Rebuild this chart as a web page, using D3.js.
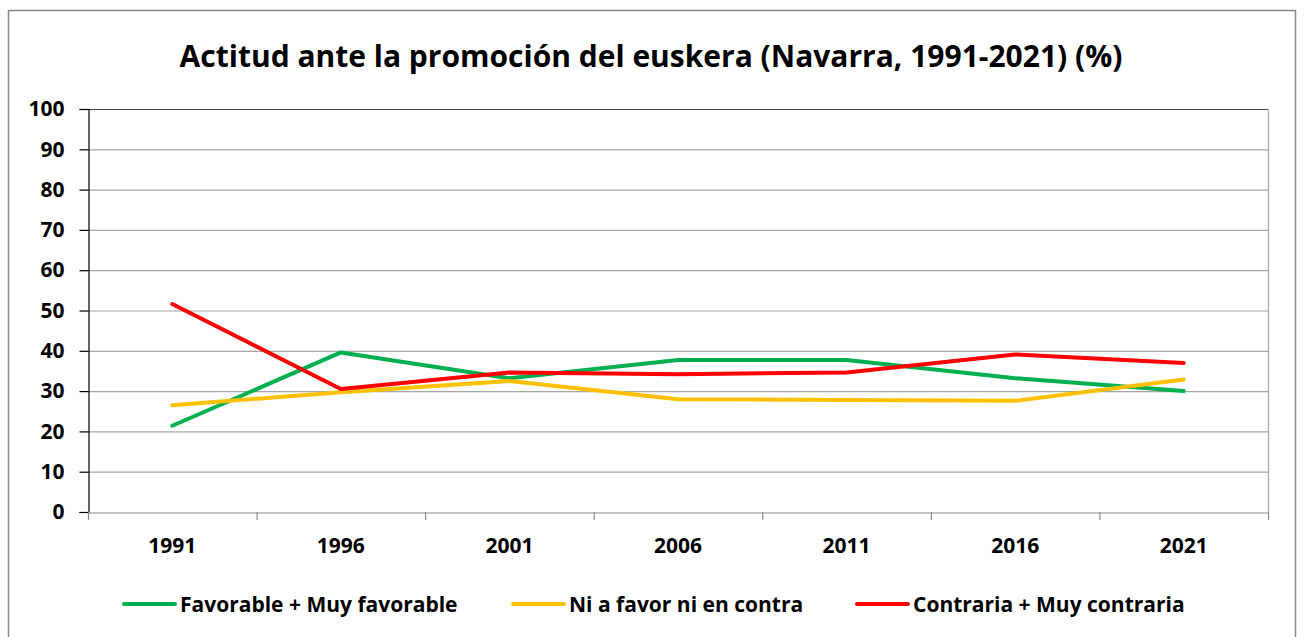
<!DOCTYPE html>
<html>
<head>
<meta charset="utf-8">
<script src="https://cdn.jsdelivr.net/npm/d3@7"></script>
<style>
  body { margin: 0; background: #fff; }
  svg text { font-family: "Open Sans", Lato, sans-serif; font-weight: bold; fill: #000; }
</style>
</head>
<body>
<div id="chart"></div>
<script>
const years = ['1991', '1996', '2001', '2006', '2011', '2016', '2021'];
const favorable = [21.4, 39.6, 33.2, 37.7, 37.7, 33.2, 30.0];
const neutral = [26.5, 29.7, 32.5, 28.0, 27.8, 27.6, 32.9];
const contraria = [51.6, 30.5, 34.6, 34.2, 34.6, 39.1, 37.0];
const seriesNames = ['Favorable + Muy favorable', 'Ni a favor ni en contra', 'Contraria + Muy contraria'];
const yTicks = [0, 10, 20, 30, 40, 50, 60, 70, 80, 90, 100];

const W = 1304, H = 637;
const plot = { left: 88, right: 1268, top: 109, bottom: 512 };
const colors = ['#00B050', '#FFC000', '#FF0000'];
const series = [favorable, neutral, contraria];
const FONT = '"Open Sans", Lato, sans-serif';

const svg = d3.select('#chart').append('svg')
  .attr('width', W).attr('height', H);

// outer frame
svg.append('rect')
  .attr('x', 8.5).attr('y', 10.5).attr('width', 1287).attr('height', 640)
  .attr('fill', 'none').attr('stroke', '#888').attr('stroke-width', 1.5);

svg.append('text')
  .attr('x', 651).attr('y', 67)
  .attr('text-anchor', 'middle')
  .style('font-size', '30px')
  .text('Actitud ante la promoción del euskera (Navarra, 1991-2021) (%)');

const x = d3.scaleBand().domain(years).range([plot.left, plot.right]);
const y = d3.scaleLinear().domain([0, 100]).range([plot.bottom, plot.top]);

// gridlines
svg.append('g').selectAll('line')
  .data(yTicks.filter(d => d > 0))
  .enter().append('line')
    .attr('x1', plot.left).attr('x2', plot.right)
    .attr('y1', d => y(d) + 0.5).attr('y2', d => y(d) + 0.5)
    .attr('stroke', d => d === 100 ? '#444' : '#a6a6a6')
    .attr('stroke-width', 1.2);

// right edge of plot area
svg.append('line')
  .attr('x1', plot.right + 0.5).attr('x2', plot.right + 0.5)
  .attr('y1', plot.top).attr('y2', plot.bottom)
  .attr('stroke', '#a6a6a6').attr('stroke-width', 1.2);

// y axis
const yAxis = svg.append('g')
  .attr('transform', `translate(${plot.left + 0.5},0)`)
  .call(d3.axisLeft(y).tickValues(yTicks).tickSize(9).tickPadding(15));
yAxis.select('.domain').attr('stroke', '#000').attr('stroke-width', 1.2);
yAxis.selectAll('.tick line').attr('stroke', '#000').attr('stroke-width', 1.2);
yAxis.selectAll('.tick text')
  .style('font-size', '21px').style('font-family', FONT)
  .attr('fill', '#000');

// x axis
const xAxis = svg.append('g')
  .attr('transform', `translate(0,${plot.bottom + 0.5})`)
  .call(d3.axisBottom(x).tickSize(0).tickPadding(26));
xAxis.select('.domain').attr('stroke', '#888').attr('stroke-width', 1.2);
xAxis.selectAll('.tick text')
  .style('font-size', '21px').style('font-family', FONT)
  .attr('fill', '#000');
// category separators
const bounds = years.map(d => x(d)).concat([plot.right]);
svg.append('g').selectAll('line')
  .data(bounds)
  .enter().append('line')
    .attr('x1', d => d + 0.5).attr('x2', d => d + 0.5)
    .attr('y1', plot.bottom).attr('y2', plot.bottom + 8)
    .attr('stroke', '#888').attr('stroke-width', 1.2);

// lines
const line = d3.line()
  .x((d, i) => x(years[i]) + x.bandwidth() / 2)
  .y(d => y(d));

svg.append('g').selectAll('path')
  .data(series)
  .enter().append('path')
    .attr('d', line)
    .attr('fill', 'none')
    .attr('stroke', (d, i) => colors[i])
    .attr('stroke-width', 4)
    .attr('stroke-linecap', 'round')
    .attr('stroke-linejoin', 'round');

// legend
const legendX = [124, 513, 857];
const lg = svg.append('g').selectAll('g')
  .data(seriesNames)
  .enter().append('g')
    .attr('transform', (d, i) => `translate(${legendX[i]},604)`);
lg.append('line')
  .attr('x1', 0).attr('x2', 51).attr('y1', 0).attr('y2', 0)
  .attr('stroke', (d, i) => colors[i]).attr('stroke-width', 4)
  .attr('stroke-linecap', 'round');
lg.append('text')
  .attr('x', 56).attr('y', 8)
  .style('font-size', '21px')
  .text(d => d);
</script>
</body>
</html>
